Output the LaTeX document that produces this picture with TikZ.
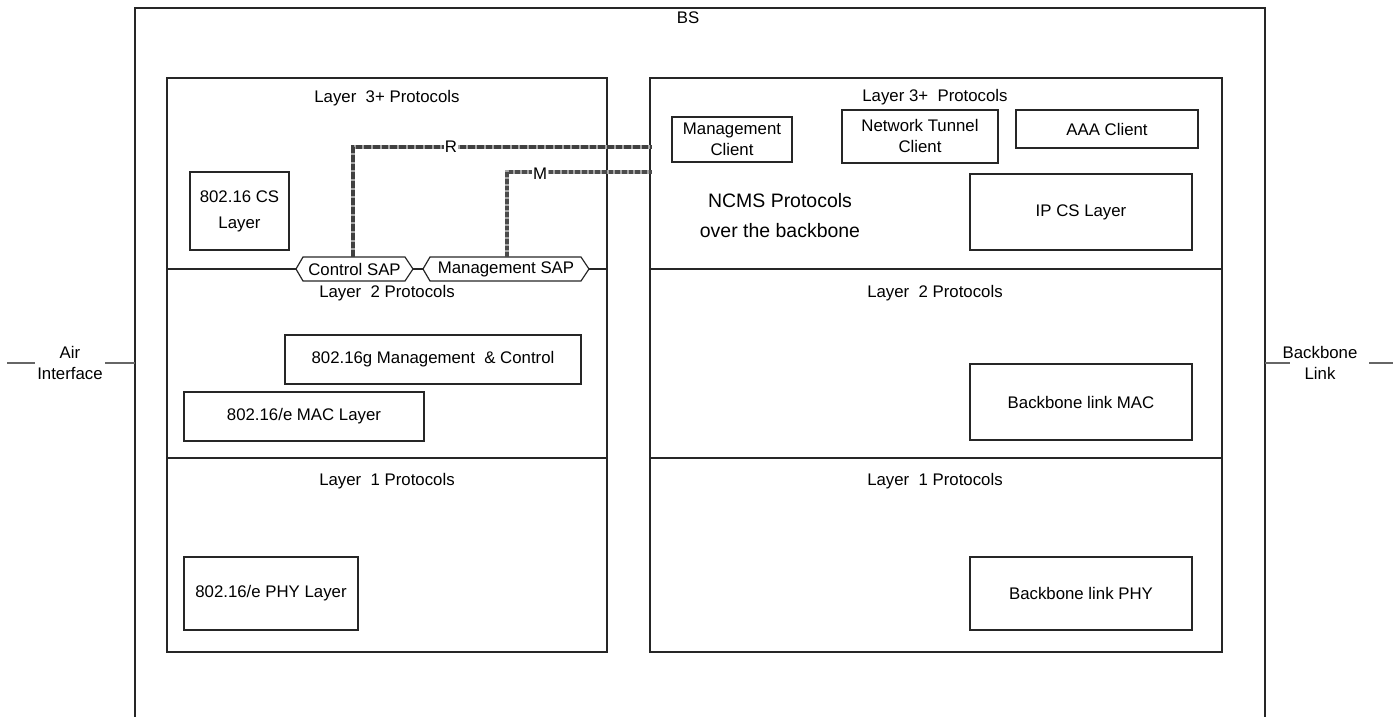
\documentclass[tikz,border=0pt]{standalone}
\usepackage{fontspec}
\setmainfont{Liberation Sans}
\begin{document}
\begin{tikzpicture}[x=0.75pt,y=-0.75pt,
  frame/.style={draw=black!85,line width=0.9pt},
  box/.style={draw=black!85,line width=0.9pt,inner sep=0pt,align=center,font=\fontsize{12.6}{15.5}\selectfont},
  lbl/.style={inner sep=0pt,align=center,font=\fontsize{12.6}{15.5}\selectfont},
  big/.style={inner sep=0pt,align=center,font=\fontsize{14.6}{22.5}\selectfont},
  sap/.style={draw=black!85,line width=0.9pt},
  rline/.style={draw=black!35,line width=2.6pt},
  rdash/.style={draw=black!75,line width=2.6pt,dash pattern=on 5pt off 1.5pt},
  mline/.style={draw=black!35,line width=2.3pt},
  mdash/.style={draw=black!70,line width=2.3pt,dash pattern=on 3.5pt off 1.5pt}]
\useasboundingbox (0,0) rectangle (1396,717);
\newcommand\bx[6]{\node[box,minimum width={(#4-#2)*0.75pt},minimum height={(#5-#3)*0.75pt}] (#1) at ({(#2+#4)/2},{(#3+#5)/2}) {#6};}
% outer BS frame
\draw[frame] (135,717) -- (135,8) -- (1265,8) -- (1265,717);
\node[lbl] (bs) at (688,18) {BS};
% left panel
\node[frame,inner sep=0pt,minimum width={440*0.75pt},minimum height={574*0.75pt}] (lp) at (387,365) {};
\draw[frame] (167,458) -- (607,458);
% right panel
\node[frame,inner sep=0pt,minimum width={572*0.75pt},minimum height={574*0.75pt}] (rp) at (936,365) {};
\draw[frame] (650,269) -- (1222,269);
\draw[frame] (650,458) -- (1222,458);
% layer labels
\node[lbl] (l3l) at (387,98) {Layer\ \ 3+ Protocols};
\node[lbl] (l2l) at (387,293) {Layer\ \ 2 Protocols};
\node[lbl] (l1l) at (387,481) {Layer\ \ 1 Protocols};
\node[lbl] (l3r) at (935,97) {Layer 3+\ \ Protocols};
\node[lbl] (l2r) at (935,293) {Layer\ \ 2 Protocols};
\node[lbl] (l1r) at (935,481) {Layer\ \ 1 Protocols};
% left boxes
\bx{cs}{190}{172}{289}{250}{802.16 CS\\[4pt]Layer}
\bx{mc}{285}{335}{581}{384}{802.16g Management\ \ \& Control}
\bx{mac}{184}{392}{424}{441}{802.16/e MAC Layer}
\bx{phy}{184}{557}{358}{630}{802.16/e PHY Layer}
% right boxes
\bx{mgc}{672}{117}{792}{162}{Management\\Client}
\bx{ntc}{842}{110}{998}{163}{}
\node[lbl] (ntct) at (920,136) {Network Tunnel\\Client};
\bx{aaa}{1016}{110}{1198}{148}{AAA Client}
\bx{ipcs}{970}{174}{1192}{250}{IP CS Layer}
\bx{bmac}{970}{364}{1192}{440}{Backbone link MAC}
\bx{bphy}{970}{557}{1192}{630}{Backbone link PHY}
\node[big] (ncms) at (780,216) {NCMS Protocols\\over the backbone};
% SAPs
\draw[sap] (296,269) -- (303,257) -- (405,257) -- (413,269) -- (405,281) -- (303,281) -- cycle;
\node[lbl] (csap) at (354.5,269) {Control SAP};
\draw[sap] (423,269) -- (430,257) -- (581,257) -- (589,269) -- (581,281) -- (430,281) -- cycle;
\node[lbl] (msap) at (506,269) {Management SAP};
\draw[frame] (167,269) -- (296,269);
\draw[frame] (413,269) -- (423,269);
\draw[frame] (589,269) -- (607,269);
% R and M connections
\coordinate (rend) at (652,147);
\coordinate (mend) at (652,172);
\draw[rline] (353,257) -- (353,147) -- (rend);
\draw[rdash] (353,257) -- (353,147) -- (rend);
\node[lbl,fill=white,inner xsep=1pt] (r) at (451,147) {R};
\draw[mline] (507,257) -- (507,172) -- (mend);
\draw[mdash] (507,257) -- (507,172) -- (mend);
\node[lbl,fill=white,inner xsep=1pt] (m) at (540,174) {M};
% external interfaces
\node[lbl] (air) at (70,363) {Air\\Interface};
\draw[draw=black!60,line width=0.8pt] (7,363) -- (35,363);
\draw[draw=black!60,line width=0.8pt] (105,363) -- (135,363);
\node[lbl] (bb) at (1320,363) {Backbone\\Link};
\draw[draw=black!60,line width=0.8pt] (1265,363) -- (1290,363);
\draw[draw=black!60,line width=0.8pt] (1369,363) -- (1393,363);
\end{tikzpicture}
\end{document}
